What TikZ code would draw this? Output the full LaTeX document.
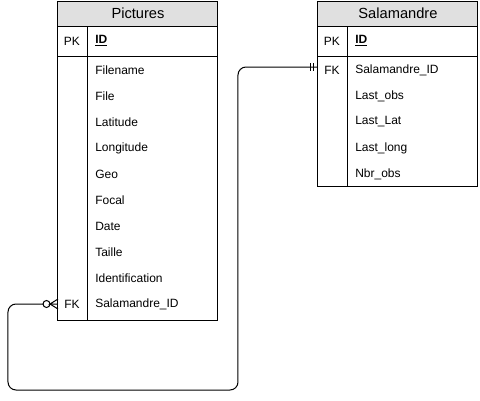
\documentclass[tikz,border=0pt]{standalone}
\usepackage{fontspec}
\setmainfont{Liberation Sans}
\definecolor{headgray}{HTML}{E0E0E0}
\tikzset{
  tablebox/.style={draw=black, line width=0.75pt},
  tablehead/.style={tablebox, fill=headgray},
  field/.style={anchor=west, inner sep=0pt, font=\fontsize{9}{10}\selectfont},
  keylbl/.style={inner sep=0pt, font=\fontsize{9}{10}\selectfont},
  headlbl/.style={inner sep=0pt, font=\fontsize{11}{12}\selectfont},
  relation/.style={draw=black, line width=0.75pt, rounded corners=6pt}
}
\begin{document}
\begin{tikzpicture}[x=0.75pt,y=-0.75pt]
  \useasboundingbox (0,0) rectangle (480,401);
  % Pictures table
  \draw [tablehead] (58,1) rectangle (218,26);
  \node [headlbl] (pichead) at (138,13.5) {Pictures};
  \draw [tablebox] (58,26) rectangle (218,56);
  \draw [tablebox] (58,56) rectangle (218,320);
  \draw [tablebox] (88,26) -- (88,320);
  \node [keylbl] (picpk) at (72,41) {PK};
  \node [field] (picid) at (95,41) {\textbf{\underline{ID}}};
  \foreach \name [count=\i from 0] in {Filename,File,Latitude,Longitude,Geo,Focal,Date,Taille,Identification,Salamandre\_ID}
    \node [field] (picrow\i) at (95,70+26*\i) {\name};
  \node [keylbl] (picfk) at (72,304) {FK};
  % Salamandre table
  \draw [tablehead] (318,1) rectangle (478,26);
  \node [headlbl] (salhead) at (398,13.5) {Salamandre};
  \draw [tablebox] (318,26) rectangle (478,56);
  \draw [tablebox] (318,56) rectangle (478,186);
  \draw [tablebox] (348,26) -- (348,186);
  \node [keylbl] (salpk) at (332,41) {PK};
  \node [field] (salid) at (355,41) {\textbf{\underline{ID}}};
  \foreach \name [count=\i from 0] in {Salamandre\_ID,Last\_obs,Last\_Lat,Last\_long,Nbr\_obs}
    \node [field] (salrow\i) at (355,70+26*\i) {\name};
  \node [keylbl] (salfk) at (332,70) {FK};
  % relation
  \coordinate (picend) at (58,304);
  \coordinate (salend) at (318,67);
  \draw [relation] (picend) ++(-14,0) -- (8,304) -- (8,390) -- (238,390) -- (238,67) -- (salend);
  % zero or many
  \draw [line width=0.75pt] (46.5,304) circle (3.5);
  \draw [line width=0.75pt] (picend) ++(0,-5) -- (50,304) -- (picend);
  \draw [line width=0.75pt] (picend) ++(0,5) -- (50,304);
  % one and only one
  \draw [line width=0.75pt] (311,63) -- (311,71) (314,63) -- (314,71);
\end{tikzpicture}
\end{document}
